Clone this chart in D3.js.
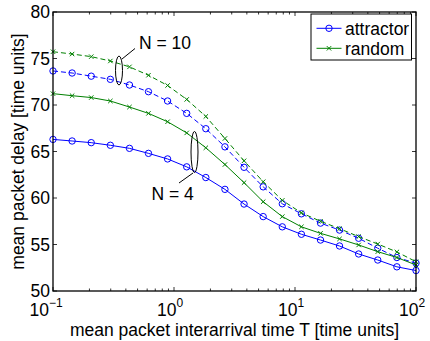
<!DOCTYPE html>
<html>
<head>
<meta charset="utf-8">
<script src="https://cdn.jsdelivr.net/npm/d3@7"></script>
<style>
  body { margin: 0; background: #fff; }
  svg { display: block; font-family: "Liberation Sans", Arial, sans-serif; }
</style>
</head>
<body>
<svg width="430" height="341"></svg>
<script>
// mean packet interarrival time T: 20 log-spaced points, 10^-1 .. 10^2
const expo = [-1, -0.842, -0.684, -0.526, -0.368, -0.211, -0.053, 0.105, 0.263, 0.421,
              0.579, 0.737, 0.895, 1.053, 1.211, 1.368, 1.526, 1.684, 1.842, 2];
const xVals = expo.map(e => Math.pow(10, e));

const attractor10 = [73.66, 73.44, 73.1, 72.76, 72.15, 71.43, 70.43, 69.1, 67.45, 65.5,
                     63.3, 61.2, 59.38, 58.3, 57.3, 56.55, 55.67, 54.6, 53.6, 53.0];
const random10    = [75.73, 75.48, 75.2, 74.73, 74.1, 73.2, 72.1, 70.6, 68.77, 66.4,
                     64.0, 61.75, 59.75, 58.4, 57.5, 56.7, 55.85, 55.05, 54.2, 53.15];
const attractor4  = [66.3, 66.13, 65.95, 65.67, 65.34, 64.8, 64.2, 63.35, 62.2, 60.93,
                     59.35, 58.0, 56.9, 56.1, 55.48, 54.84, 53.98, 53.33, 52.6, 52.2];
const random4     = [71.22, 71.0, 70.8, 70.43, 69.78, 69.1, 68.2, 67.0, 65.4, 63.6,
                     61.65, 59.6, 58.0, 56.9, 56.2, 55.6, 54.95, 54.23, 53.6, 52.8];

const xTickExp = [-1, 0, 1, 2];
const yTicks = [50, 55, 60, 65, 70, 75, 80];

const series = [
  { name: "attractor", vals: attractor10, color: "#0000ff", marker: "o", dash: "5,3" },
  { name: "random",    vals: random10,    color: "#008000", marker: "x", dash: "5,3" },
  { name: "random",    vals: random4,     color: "#008000", marker: "x", dash: null },
  { name: "attractor", vals: attractor4,  color: "#0000ff", marker: "o", dash: null }
];
const legendItems = [
  { name: "attractor", color: "#0000ff", marker: "o" },
  { name: "random",    color: "#008000", marker: "x" }
];

const pLeft = 53, pRight = 416, pTop = 12, pBottom = 291;
const fs = 17.5;
let svg = d3.select('svg');

let xScale = d3.scaleLog().domain([0.1, 100]).range([pLeft, pRight]);
let yScale = d3.scaleLinear().domain([50, 80]).range([pBottom, pTop]);

// minor ticks on log axis
let minor = [];
for (let d = -1; d < 2; d++) {
  for (let k = 2; k <= 9; k++) minor.push(k * Math.pow(10, d));
}

let tl = 4;
let ticks = svg.append('g').attr('stroke', '#000').attr('stroke-width', 0.8);
minor.forEach(v => {
  let x = xScale(v);
  ticks.append('line').attr('x1', x).attr('x2', x).attr('y1', pBottom).attr('y2', pBottom - 2.5);
  ticks.append('line').attr('x1', x).attr('x2', x).attr('y1', pTop).attr('y2', pTop + 2.5);
});
xTickExp.forEach(e => {
  let x = xScale(Math.pow(10, e));
  ticks.append('line').attr('x1', x).attr('x2', x).attr('y1', pBottom).attr('y2', pBottom - tl);
  ticks.append('line').attr('x1', x).attr('x2', x).attr('y1', pTop).attr('y2', pTop + tl);
});
yTicks.forEach(v => {
  let y = yScale(v);
  ticks.append('line').attr('x1', pLeft).attr('x2', pLeft + tl).attr('y1', y).attr('y2', y);
  ticks.append('line').attr('x1', pRight).attr('x2', pRight - tl).attr('y1', y).attr('y2', y);
});

// tick labels
svg.append('g').selectAll('text').data(yTicks).enter().append('text')
  .attr('x', pLeft - 3).attr('y', d => yScale(d) + 6.2)
  .attr('text-anchor', 'end').attr('font-size', fs)
  .text(d => d);

let xl = svg.append('g').selectAll('text').data(xTickExp).enter().append('text')
  .attr('x', d => xScale(Math.pow(10, d)) + (d < 0 ? -7 : -4)).attr('y', 316)
  .attr('text-anchor', 'middle').attr('font-size', fs);
xl.append('tspan').text('10');
xl.append('tspan').attr('dy', -9).attr('font-size', 12).text(d => d < 0 ? '\u2212' + (-d) : d);

// lines + markers
let line = d3.line().x((d, i) => xScale(xVals[i])).y(d => yScale(d));
series.forEach(s => {
  svg.append('path').attr('d', line(s.vals)).attr('fill', 'none')
    .attr('stroke', s.color).attr('stroke-width', 1)
    .attr('stroke-dasharray', s.dash);
  let g = svg.append('g').attr('stroke', s.color).attr('fill', 'none').attr('stroke-width', 1);
  s.vals.forEach((v, i) => drawMarker(g, s.marker, xScale(xVals[i]), yScale(v)));
});

function drawMarker(g, m, x, y) {
  if (m === 'o') {
    g.append('circle').attr('cx', x).attr('cy', y).attr('r', 3.2);
  } else {
    let r = 2.2;
    g.append('path').attr('d', `M${x - r},${y - r}L${x + r},${y + r}M${x - r},${y + r}L${x + r},${y - r}`);
  }
}

// axes box
svg.append('rect').attr('x', pLeft).attr('y', pTop).attr('width', pRight - pLeft).attr('height', pBottom - pTop)
  .attr('fill', 'none').attr('stroke', '#000').attr('stroke-width', 1.3);

// annotations
let ann = svg.append('g').attr('stroke', '#000').attr('fill', 'none').attr('stroke-width', 1);
ann.append('ellipse').attr('cx', 119).attr('cy', 70.5).attr('rx', 3.5).attr('ry', 14.5);
ann.append('line').attr('x1', 122).attr('y1', 59).attr('x2', 135).attr('y2', 48.5);
ann.append('ellipse').attr('cx', 194.5).attr('cy', 152).attr('rx', 3.5).attr('ry', 20.5);
ann.append('line').attr('x1', 193).attr('y1', 173).attr('x2', 179).attr('y2', 183);
svg.append('text').attr('x', 139).attr('y', 48.7).attr('font-size', fs).text('N = 10');
svg.append('text').attr('x', 151.5).attr('y', 199.5).attr('font-size', fs).text('N = 4');

// legend
let lg = svg.append('g');
lg.append('rect').attr('x', 311).attr('y', 14).attr('width', 100.5).attr('height', 46)
  .attr('fill', '#fff').attr('stroke', '#000').attr('stroke-width', 1);
legendItems.forEach((d, i) => {
  let y = 28.3 + i * 20;
  lg.append('line').attr('x1', 316.5).attr('x2', 341.5).attr('y1', y).attr('y2', y)
    .attr('stroke', d.color).attr('stroke-width', 1);
  let g = lg.append('g').attr('stroke', d.color).attr('fill', 'none').attr('stroke-width', 1);
  drawMarker(g, d.marker, 329, y);
  lg.append('text').attr('x', 345).attr('y', y + 6.2).attr('font-size', fs).text(d.name);
});

// axis labels
svg.append('text').attr('x', (pLeft + pRight) / 2).attr('y', 336)
  .attr('text-anchor', 'middle').attr('font-size', fs)
  .text('mean packet interarrival time T [time units]');
svg.append('text').attr('transform', `translate(24, ${(pTop + pBottom) / 2}) rotate(-90)`)
  .attr('text-anchor', 'middle').attr('font-size', fs)
  .text('mean packet delay [time units]');
</script>
</body>
</html>
